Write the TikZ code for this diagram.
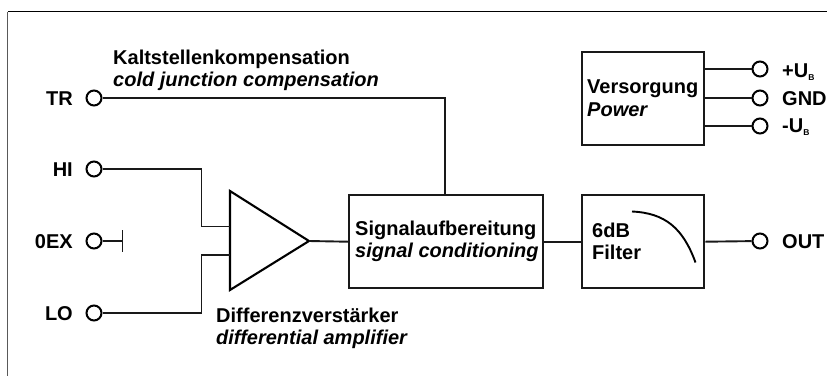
\documentclass[tikz,border=0pt]{standalone}
\usepackage{fontspec}
\setmainfont{Liberation Sans}
\begin{document}
\begin{tikzpicture}[x=1pt,y=-1pt,
  line cap=butt,
  wire/.style={line width=1.9pt,draw=black!90},
  blockbox/.style={draw=black!90,line width=2.4pt,minimum width=0pt,inner sep=0pt,anchor=north west},
  term/.style={circle,draw=black,line width=2pt,fill=white,minimum size=15pt,inner sep=0pt},
  lab/.style={font=\fontsize{20}{22}\selectfont\bfseries,inner sep=0pt},
  two/.style={lab,align=left,anchor=west,font=\fontsize{20}{22.5}\selectfont\bfseries},
  pin/.style={lab,anchor=base east},
  rpin/.style={lab,anchor=base west}]
\useasboundingbox (0,0) rectangle (827,376);
\fill[white] (0,0) rectangle (827,376);
\coordinate (fa) at (827,11.5);
\coordinate (fb) at (7.5,11.5);
\coordinate (fc) at (7.5,376);
\draw[line width=0.9pt,black] (fa) -- (fb);
\draw[line width=1.5pt,black!65] (fb) -- (fc);
% boxes
\node[blockbox,minimum width=122pt,minimum height=93pt] (pow) at (581,51) {};
\node[blockbox,minimum width=122pt,minimum height=93pt] (fil) at (581,194) {};
\node[blockbox,minimum width=194pt,minimum height=93pt] (sig) at (348,194) {};
\coordinate (a1) at (230,191);
\coordinate (a2) at (230,290);
\coordinate (a3) at (309,241);
\draw[line width=2.1pt,draw=black,line join=miter] (a1) -- (a2) -- (a3) -- cycle;
% wires
\coordinate (c1) at (445,98);
\coordinate (h1) at (201.5,169);
\coordinate (h2) at (201.5,226.5);
\coordinate (l1) at (201.5,313);
\coordinate (l2) at (201.5,255);
\coordinate (e1) at (122.5,241);
\coordinate (e2) at (122.5,230);
\coordinate (e3) at (122.5,251.5);
% terminals
\node[term] (tr) at (94,98) {};
\node[term] (hi) at (94,169) {};
\node[term] (ex) at (94,241) {};
\node[term] (lo) at (94,313) {};
\node[term] (up) at (760,69) {};
\node[term] (gnd) at (760,98) {};
\node[term] (um) at (760,126) {};
\node[term] (out) at (760,241) {};
% pin labels
\node[pin] (ltr) at (73,105) {TR};
\node[pin] (lhi) at (73,176) {HI};
\node[pin] (lex) at (73,248) {0EX};
\node[pin] (llo) at (73,320) {LO};
\node[rpin] (lup) at (782,77) {+U\raisebox{-3pt}{\fontsize{8.5}{9}\selectfont B}};
\node[rpin] (lgnd) at (782,105) {GND};
\node[rpin] (lum) at (782,132) {-U\raisebox{-3pt}{\fontsize{8.5}{9}\selectfont B}};
\node[rpin] (lout) at (782,248) {OUT};
% texts
\node[two] (tk) at (113,70.5) {Kaltstellenkompensation\\\itshape cold junction compensation};
\node[two] (td) at (216,328.5) {Differenzverstärker\\\itshape differential amplifier};
\node[two] (ts) at (355,241.5) {Signalaufbereitung\\\itshape signal conditioning};
\node[two] (tp) at (587,98) {Versorgung\\\itshape Power};
\node[two] (tf) at (592,241.5) {6dB\\Filter};
% connectors
\draw[wire] (tr) -- (c1) -- (c1 |- sig.north);
\draw[wire] (hi) -- (h1) -- (h2) -- (h2 -| a1);
\draw[wire] (lo) -- (l1) -- (l2) -- (l2 -| a1);
\draw[wire] (ex) -- (e1);
\draw[wire] (e2) -- (e3);
\draw[wire] (a3) -- (sig.west);
\draw[wire] (sig.east) -- (fil.west);
\draw[wire] (fil.east) -- (out);
\draw[wire] (up -| pow.east) -- (up);
\draw[wire] (gnd -| pow.east) -- (gnd);
\draw[wire] (um -| pow.east) -- (um);
\coordinate (f1) at (632,211.5);
\coordinate (f2) at (695.5,262.5);
\draw[line width=1.9pt,black] (f1) .. controls (665,213) and (683,228) .. (f2);
\end{tikzpicture}
\end{document}
